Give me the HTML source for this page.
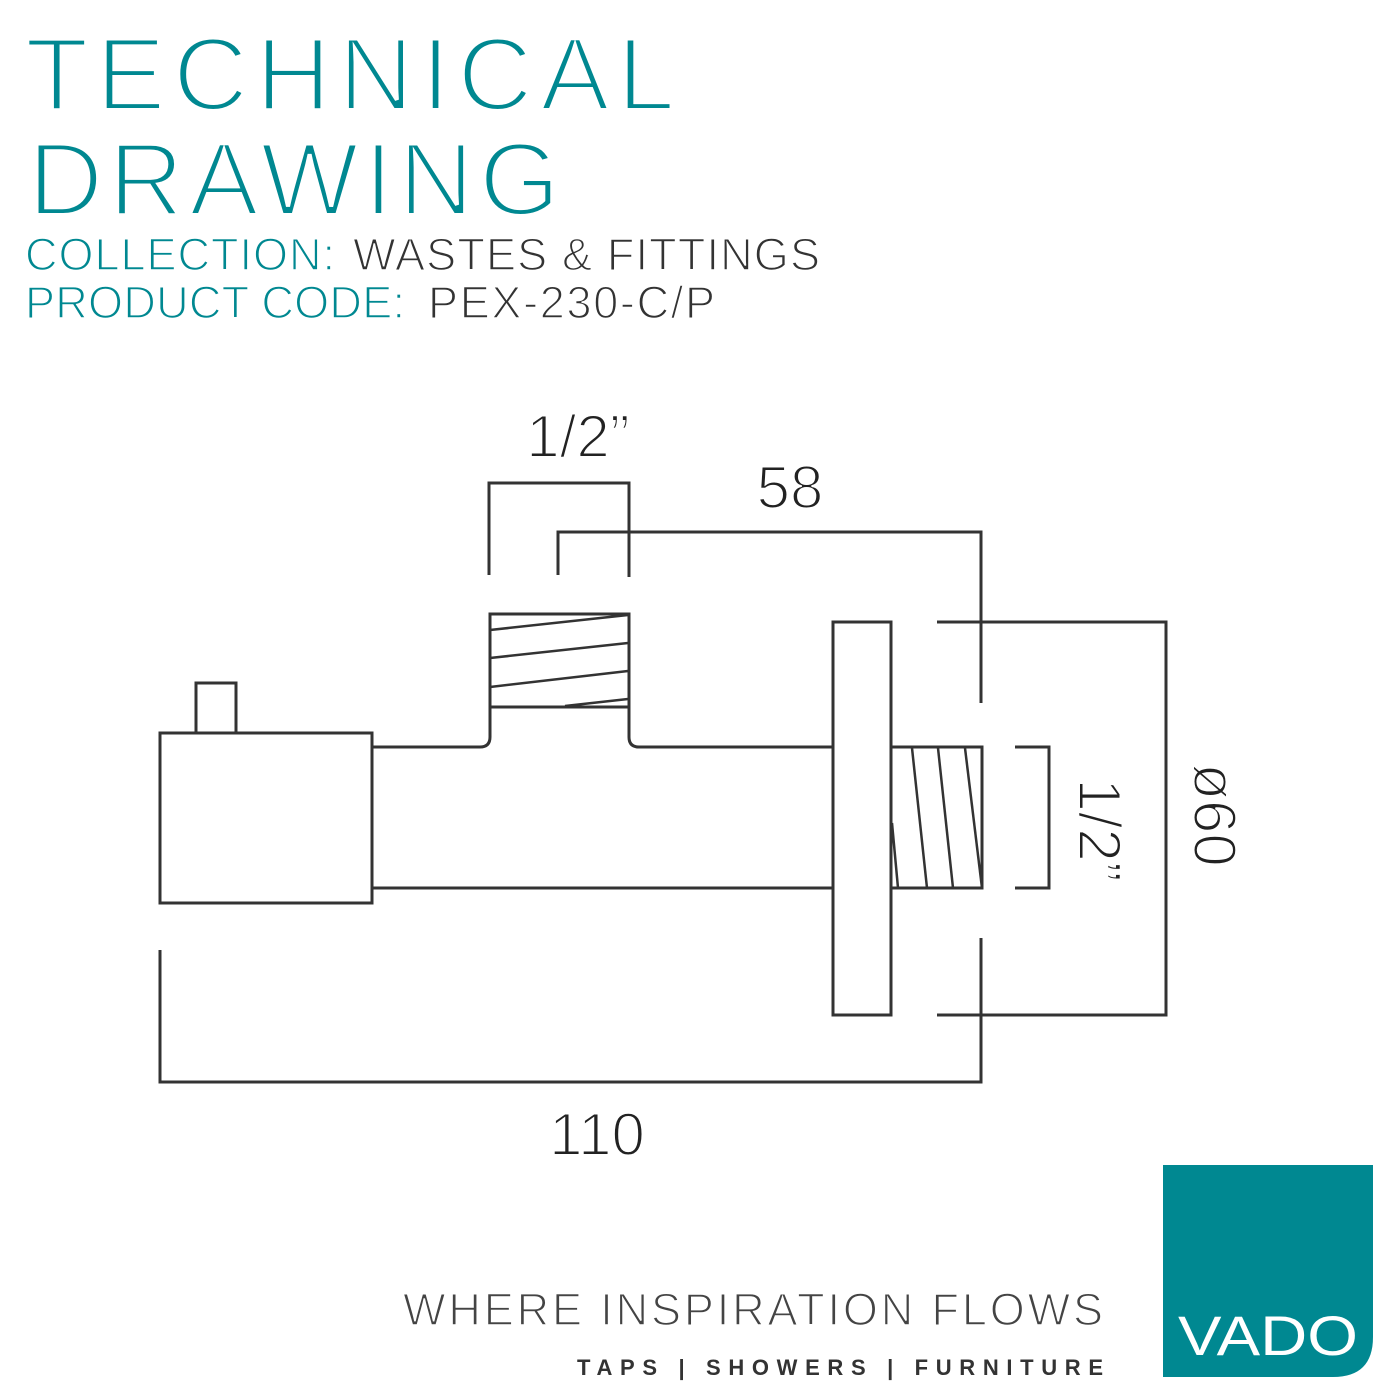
<!DOCTYPE html>
<html><head><meta charset="utf-8"><style>html,body{margin:0;padding:0;background:#fff}svg{display:block}</style></head>
<body>
<svg width="1400" height="1400" viewBox="0 0 1400 1400" xmlns="http://www.w3.org/2000/svg" font-family="Liberation Sans, sans-serif">
<rect width="1400" height="1400" fill="#fff"/>
<g fill="#008891" stroke="#fff">
<text x="25" y="110" font-size="104" stroke-width="4" textLength="650" lengthAdjust="spacing">TECHNICAL</text>
<text x="28" y="215" font-size="104" stroke-width="4" textLength="532" lengthAdjust="spacing">DRAWING</text>
<text x="25" y="270" font-size="45" stroke-width="1.5" textLength="310" lengthAdjust="spacing">COLLECTION:</text>
<text x="25" y="318" font-size="45" stroke-width="1.5" textLength="380" lengthAdjust="spacing">PRODUCT CODE:</text>
</g>
<g fill="#333" stroke="#fff" stroke-width="1.5">
<text x="353" y="270" font-size="45" textLength="467" lengthAdjust="spacing">WASTES &amp; FITTINGS</text>
<text x="428" y="318" font-size="45" textLength="287" lengthAdjust="spacing">PEX-230-C/P</text>
</g>
<g fill="none" stroke="#333" stroke-width="3">
<rect x="196" y="683" width="40" height="50"/>
<rect x="160" y="733" width="212" height="170"/>
<path d="M372 747 H480 Q490 747 490 737 V614 H629 V737 Q629 747 639 747 H833"/>
<line x1="490" y1="707" x2="629" y2="707"/>
<line x1="372" y1="888" x2="833" y2="888"/>
<rect x="833" y="622" width="58" height="393"/>
<rect x="891" y="747" width="91" height="141"/>
<g stroke-width="2.5">
<line x1="490" y1="630" x2="628" y2="615"/>
<line x1="490" y1="658" x2="628" y2="643"/>
<line x1="490" y1="687" x2="628" y2="671"/>
<line x1="565" y1="706" x2="628" y2="699"/>
<line x1="912" y1="748" x2="927" y2="888"/>
<line x1="938" y1="748" x2="953" y2="888"/>
<line x1="965" y1="748" x2="982" y2="888"/>
<line x1="892" y1="823" x2="898" y2="888"/>
</g>
<path d="M489 575 V483 H629 V577"/>
<path d="M558 575 V532 H981 V703"/>
<path d="M937 622 H1166 V1015 H937"/>
<path d="M981 938 V1082 H160 V950"/>
<path d="M1015 747 H1049 V888 H1015"/>
</g>
<g fill="#222" font-size="60" stroke="#fff" stroke-width="2">
<text x="578" y="457" text-anchor="middle">1/2”</text>
<text x="790" y="508" text-anchor="middle">58</text>
<text x="597" y="1155" text-anchor="middle">110</text>
<text transform="translate(1079 830) rotate(90)" text-anchor="middle">1/2”</text>
<text transform="translate(1194 815) rotate(90)" text-anchor="middle">ø60</text>
</g>
<text x="403" y="1325" font-size="45" fill="#444" stroke="#fff" stroke-width="1.5" textLength="700" lengthAdjust="spacing">WHERE INSPIRATION FLOWS</text>
<text x="577" y="1375" font-size="22" font-weight="bold" fill="#333" textLength="526" lengthAdjust="spacing">TAPS | SHOWERS | FURNITURE</text>
<path d="M1163 1165 H1373 V1337 Q1373 1377 1333 1377 H1163 Z" fill="#008891"/>
<text x="1268" y="1355" font-size="56" fill="#fff" text-anchor="middle" textLength="180" lengthAdjust="spacingAndGlyphs">VADO</text>
</svg>
</body></html>
